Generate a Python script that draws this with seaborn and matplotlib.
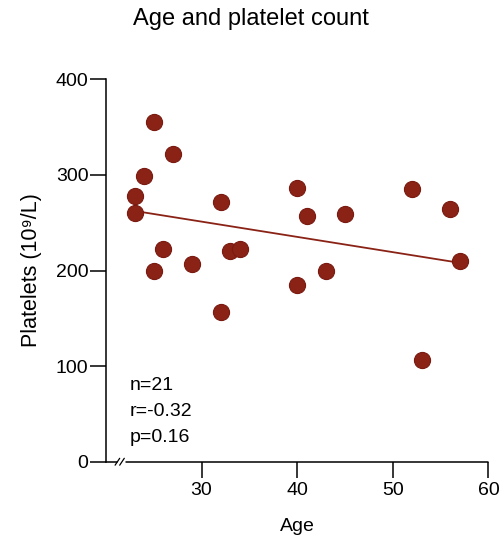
import matplotlib
matplotlib.use("Agg")
import matplotlib.pyplot as plt
import seaborn as sns
import pandas as pd

# Values
age = [23, 23, 24, 25, 25, 26, 27, 29, 32, 32, 33, 34, 40, 40, 41, 43, 45, 52, 53, 56, 57]
platelets = [278, 260, 299, 355, 200, 223, 322, 207, 272, 157, 220, 223,
             286, 185, 257, 199, 259, 285, 106, 264, 210]
stats_lines = ["n=21", "r=-0.32", "p=0.16"]
x_ticks = [30, 40, 50, 60]
y_ticks = [0, 100, 200, 300, 400]

df = pd.DataFrame({"Age": age, "Platelets": platelets})

sns.set_style("ticks")
plt.rcParams['font.family'] = ['Liberation Sans', 'DejaVu Sans']
plt.rcParams['text.color'] = 'black'
plt.rcParams['axes.labelcolor'] = 'black'
plt.rcParams['xtick.color'] = 'black'
plt.rcParams['ytick.color'] = 'black'

dot_color = "#8a2216"

fig = plt.figure(figsize=(5.02, 5.51), dpi=100)
ax = fig.add_axes([0.211, 0.162, 0.762, 0.694])

sns.regplot(data=df, x="Age", y="Platelets", ci=None, ax=ax,
            scatter_kws={"s": 135, "color": dot_color, "edgecolor": "#7a1a10",
                         "linewidths": 0.8, "alpha": 1, "zorder": 3},
            line_kws={"color": dot_color, "linewidth": 1.3, "zorder": 2})

ax.set_xlim(20, 60)
ax.set_ylim(0, 400)
ax.set_xticks(x_ticks)
ax.set_yticks(y_ticks)
ax.tick_params(axis="both", length=11.5, width=1.1, labelsize=14, pad=1)
ax.tick_params(axis="x", pad=3)

# title is centred on the whole figure
fig.suptitle("Age and platelet count", fontsize=17, x=0.5, y=0.985, va="top")
ax.set_xlabel("Age", fontsize=14, labelpad=14)
ax.set_ylabel("Platelets (10⁹/L)", fontsize=15.5, labelpad=10)

# axes with a break on the x axis
sns.despine(ax=ax)
ax.spines["left"].set_linewidth(1.1)
ax.spines["left"].set_color("black")
ax.spines["bottom"].set_visible(False)
ax.plot([0, 0.028], [0, 0], transform=ax.transAxes, color="black", lw=1.1, clip_on=False)
ax.plot([0.052, 1], [0, 0], transform=ax.transAxes, color="black", lw=1.1, clip_on=False)
for dx in (0.030, 0.042):
    ax.plot([dx - 0.006, dx + 0.006], [-0.009, 0.009], transform=ax.transAxes,
            color="black", lw=0.9, clip_on=False)

for i, line in enumerate(stats_lines):
    ax.text(0.063, 0.2006 - 0.068 * i, line, transform=ax.transAxes,
            fontsize=14, va="center", ha="left")

fig.savefig("out.png", dpi=100)
